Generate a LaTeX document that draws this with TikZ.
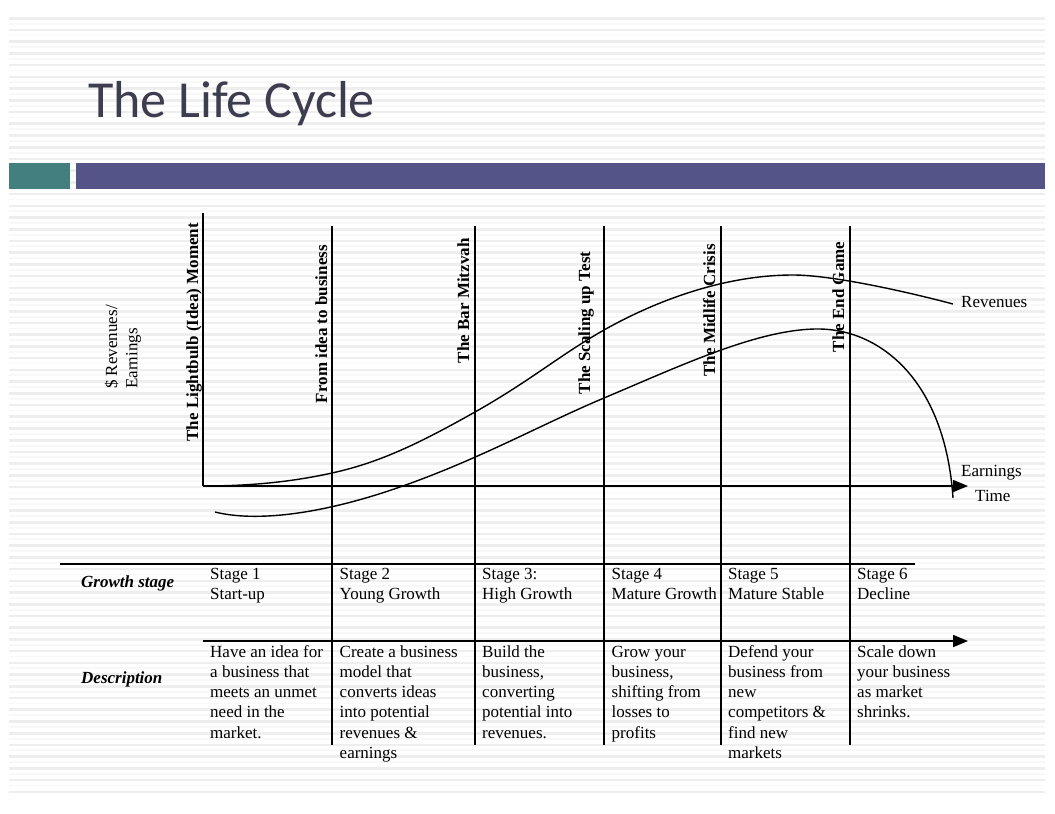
\documentclass[tikz,border=0pt]{standalone}
\usepackage{fontspec}
\setmainfont{Liberation Serif}
\newfontfamily\titlefont{Carlito}
\usetikzlibrary{arrows.meta}
\definecolor{stripegray}{HTML}{EEEEEE}
\definecolor{faintgray}{HTML}{F8F8F8}
\definecolor{barteal}{HTML}{447F80}
\definecolor{barpurple}{HTML}{545488}
\definecolor{titleink}{HTML}{3D3D50}
\tikzset{
  cell/.style={anchor=north west, inner sep=0pt, align=left, font=\fontsize{17}{20.2}\selectfont},
  tag/.style={anchor=base west, inner sep=0pt, font=\fontsize{17}{20}\selectfont},
  phase/.style={rotate=90, anchor=base east, inner sep=0pt, font=\fontsize{17}{20}\selectfont\bfseries},
  rowhead/.style={anchor=base west, inner sep=0pt, font=\fontsize{17}{20}\selectfont\bfseries\itshape},
  gridline/.style={line width=1.3pt},
  axisline/.style={line width=1.6pt},
  curve/.style={line width=1.4pt},
  tip/.style={-{Triangle[length=15pt,width=12pt]}}
}
\begin{document}
\begin{tikzpicture}[x=1pt,y=-1pt]
\useasboundingbox (0,0) rectangle (1055,814);
\fill[white] (0,0) rectangle (1055,814);
% striped slide background
\foreach \i in {0,...,66}{
  \fill[stripegray] (9,{17+\i*11.72}) rectangle (1045,{19.6+\i*11.72});
}
\foreach \i in {0,...,65}{
  \fill[faintgray] (9,{22.8+\i*11.72}) rectangle (1045,{24.6+\i*11.72});
}
% title and bars
\node[anchor=base west, inner sep=0pt, text=titleink,
  font=\titlefont\fontsize{52}{60}\selectfont] (title) at (88,117) {The Life Cycle};
\fill[barteal] (9,163) rectangle (70,189);
\fill[barpurple] (76,163) rectangle (1045,189);
% axes
\coordinate (origin) at (203,486);
\coordinate (ytop) at (203,213);
\coordinate (tend) at (968,486);
\draw[axisline] (ytop) -- (origin);
\draw[axisline,tip] (origin) -- (tend);
% stage borders
\foreach \x/\name in {332/b,475/c,604/d,721/e,850/f}{
  \coordinate (\name top) at (\x,226);
  \coordinate (\name bot) at (\x,745);
  \draw[gridline] (\name top) -- (\name bot);
}
% table rules
\coordinate (rowa w) at (60,564);
\coordinate (rowa e) at (915,564);
\coordinate (rowb w) at (203,641);
\coordinate (rowb e) at (968,641);
\draw[axisline] (rowa w) -- (rowa e);
\draw[axisline,tip] (rowb w) -- (rowb e);
% curves
\draw[curve] (origin) .. controls (260,486) and (300,480) .. (332,473)
  .. controls (380,462.5) and (420,443) .. (475,412)
  .. controls (530,381) and (560,355) .. (604,330)
  .. controls (650,304) and (720,275) .. (793,275)
  .. controls (830,275) and (900,290) .. (953,304);
\draw[curve] (215,512) .. controls (255,522) and (320,515) .. (400,487)
  .. controls (480,459) and (540,425) .. (604,398)
  .. controls (680,366) and (760,328) .. (820,329)
  .. controls (880,330) and (945,380) .. (953,498);
% labels on the chart
\node[tag] (revlabel) at (961,307.5) {Revenues};
\node[tag] (earnlabel) at (961,476.5) {Earnings};
\node[tag] (timelabel) at (975,501.5) {Time};
\node[cell,rotate=90] (ylabel) at (102.9,389) {\strut\$ Revenues/\\Earnings};
\node[phase] (idea) at (198,222.7) {The Lightbulb (Idea) Moment};
\node[phase] (business) at (327,245) {From idea to business};
\node[phase] (mitzvah) at (469,238.3) {The Bar Mitzvah};
\node[phase] (scaling) at (590,251.5) {The Scaling up Test};
\node[phase] (midlife) at (715,244) {The Midlife Crisis};
\node[phase] (endgame) at (844,241.5) {The End Game};
% table text
\node[rowhead] (growth) at (81,587) {Growth stage};
\node[rowhead] (descr) at (81,683) {Description};
\node[cell] (stage1) at (210,565.2) {\strut Stage 1\\Start-up};
\node[cell] (stage2) at (339.5,565.2) {\strut Stage 2\\Young Growth};
\node[cell] (stage3) at (482,565.2) {\strut Stage 3:\\High Growth};
\node[cell] (stage4) at (611.5,565.2) {\strut Stage 4\\Mature Growth};
\node[cell] (stage5) at (728,565.2) {\strut Stage 5\\Mature Stable};
\node[cell] (stage6) at (857,565.2) {\strut Stage 6\\Decline};
\node[cell] (descr1) at (210,642.9) {\strut Have an idea for\\a business that\\meets an unmet\\need in the\\market.};
\node[cell] (descr2) at (339.5,642.9) {\strut Create a business\\model that\\converts ideas\\into potential\\revenues \&\\earnings};
\node[cell] (descr3) at (482,642.9) {\strut Build the\\business,\\converting\\potential into\\revenues.};
\node[cell] (descr4) at (611.5,642.9) {\strut Grow your\\business,\\shifting from\\losses to\\profits};
\node[cell] (descr5) at (728,642.9) {\strut Defend your\\business from\\new\\competitors \&\\find new\\markets};
\node[cell] (descr6) at (857,642.9) {\strut Scale down\\your business\\as market\\shrinks.};
\end{tikzpicture}
\end{document}
